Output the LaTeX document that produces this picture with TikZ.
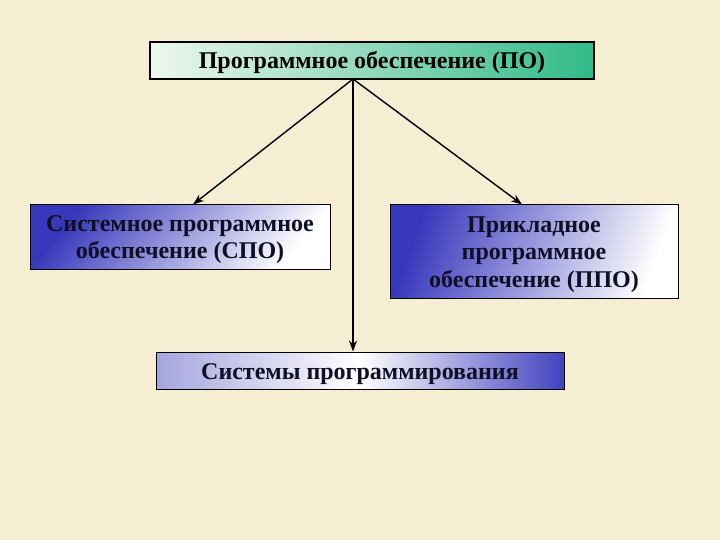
\documentclass[tikz,border=0pt]{standalone}
\usepackage{fontspec}
\setmainfont{Liberation Serif}
\usetikzlibrary{arrows.meta}
\definecolor{bg}{RGB}{246,238,210}
\definecolor{teal1}{RGB}{48,186,136}
\definecolor{pale}{RGB}{238,247,238}
\definecolor{blueA}{RGB}{56,56,188}
\definecolor{blueB}{RGB}{66,66,192}
\definecolor{blueL}{RGB}{165,165,222}
\definecolor{ink}{RGB}{14,14,36}
\begin{document}
\begin{tikzpicture}[x=1pt,y=-1pt,
  box/.style={draw=black, line width=1pt, rectangle, inner sep=0pt},
  lbl/.style={align=center, inner sep=0pt,
    font=\fontsize{24}{27.5}\selectfont\bfseries, text=ink},
  arr/.style={-{Stealth[length=11pt,width=8pt]}, line width=1.4pt, draw=black}]
\fill[bg] (0,0) rectangle (720,540);
\useasboundingbox (0,0) rectangle (720,540);
\node[box, line width=1.8pt, minimum width=444pt, minimum height=37pt,
  left color=pale, right color=teal1,
  label={[lbl, text=black, yshift=-2pt]center:Программное обеспечение (ПО)}] (top) at (372,60.5) {};
\node[box, minimum width=300pt, minimum height=64pt,
  top color=blueA, bottom color=white, shading angle=50,
  label={[lbl, yshift=-2.5pt]center:{Системное программное\\обеспечение (СПО)}}] (spo) at (180,237) {};
\node[box, minimum width=288pt, minimum height=93pt,
  top color=blueA, bottom color=white, shading angle=70,
  label={[lbl, yshift=-3pt]center:{Прикладное\\программное\\обеспечение (ППО)}}] (ppo) at (534,251.5) {};
\node[box, minimum width=408pt, minimum height=37pt,
  left color=blueL, right color=blueB, middle color=white,
  label={[lbl, yshift=-3.5pt]center:Системы программирования}] (sys) at (360,370.5) {};
\coordinate (hub) at (353,79);
\draw[arr] (hub) -- ([xshift=13pt]spo.north);
\draw[arr] (hub) -- ([xshift=-12pt]ppo.north);
\draw[arr] (hub) -- (hub |- sys.north);
\end{tikzpicture}
\end{document}
